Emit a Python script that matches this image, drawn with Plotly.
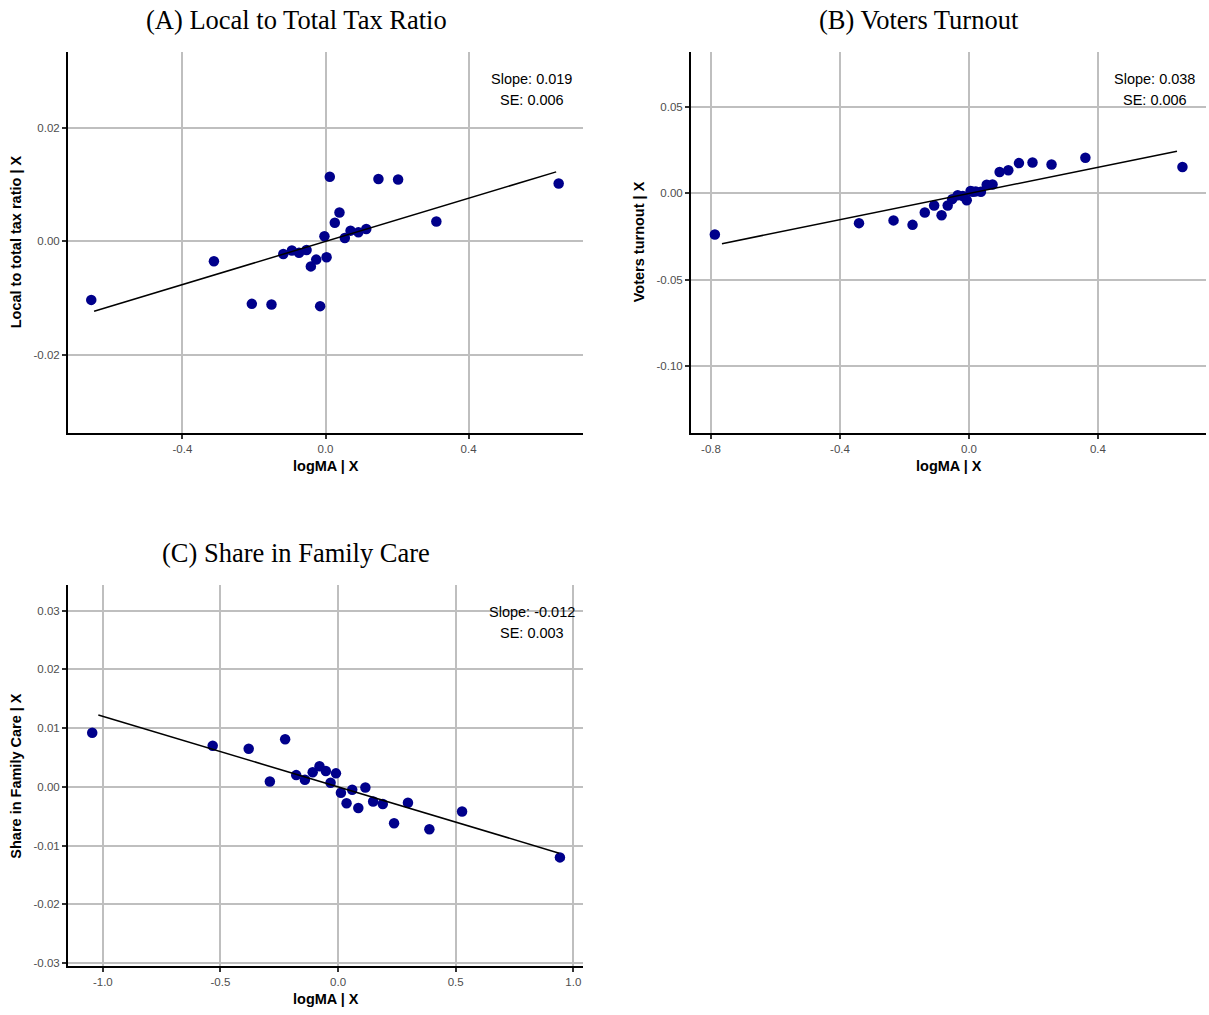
import plotly.graph_objects as go

# ---- data: partial-regression residuals (logMA | X vs outcome | X) ----
a_x = [-0.655, -0.312, -0.206, -0.151, -0.118, -0.094, -0.074, -0.053, -0.041, -0.026,
       -0.015, -0.003, 0.003, 0.012, 0.026, 0.039, 0.054, 0.070, 0.092, 0.114,
       0.148, 0.203, 0.310, 0.652]
a_y = [-0.0103, -0.0035, -0.0110, -0.0111, -0.0022, -0.0016, -0.0020, -0.0015, -0.0044, -0.0032,
       -0.0114, 0.0009, -0.0028, 0.0114, 0.0033, 0.0051, 0.0006, 0.0019, 0.0016, 0.0022,
       0.0110, 0.0109, 0.0035, 0.0102]

b_x = [-0.788, -0.341, -0.234, -0.175, -0.137, -0.108, -0.085, -0.066, -0.052, -0.035,
       -0.019, -0.007, 0.005, 0.012, 0.021, 0.037, 0.055, 0.073, 0.095, 0.122,
       0.155, 0.197, 0.256, 0.361, 0.662]
b_y = [-0.0238, -0.0172, -0.0156, -0.0182, -0.0110, -0.0070, -0.0126, -0.0070, -0.0033, -0.0010,
       -0.0015, -0.0039, 0.0014, 0.0010, 0.0012, 0.0010, 0.0050, 0.0052, 0.0124, 0.0135,
       0.0176, 0.0180, 0.0168, 0.0207, 0.0153]

c_x = [-1.045, -0.533, -0.380, -0.225, -0.290, -0.178, -0.141, -0.108, -0.079, -0.052,
       -0.009, -0.032, 0.012, 0.036, 0.060, 0.086, 0.116, 0.149, 0.190, 0.238,
       0.297, 0.388, 0.527, 0.943]
c_y = [0.0092, 0.0070, 0.0065, 0.0081, 0.0009, 0.0020, 0.0012, 0.0025, 0.0035, 0.0027,
       0.0023, 0.0007, -0.0010, -0.0028, -0.0005, -0.0036, -0.0001, -0.0025, -0.0029, -0.0062,
       -0.0027, -0.0072, -0.0042, -0.0120]

# fitted slopes, standard errors and the x extent of each fitted line
slopes = [0.019, 0.038, -0.012]
ses = [0.006, 0.006, 0.003]
fit_x = [[-0.647, 0.645], [-0.766, 0.645], [-1.019, 0.940]]

titles = ["(A) Local to Total Tax Ratio", "(B) Voters Turnout", "(C) Share in Family Care"]
y_titles = ["Local to total tax ratio | X", "Voters turnout | X", "Share in Family Care | X"]
x_title = "logMA | X"

x_ticks = [[-0.4, 0.0, 0.4], [-0.8, -0.4, 0.0, 0.4], [-1.0, -0.5, 0.0, 0.5, 1.0]]
x_ticklabels = [["-0.4", "0.0", "0.4"], ["-0.8", "-0.4", "0.0", "0.4"],
                ["-1.0", "-0.5", "0.0", "0.5", "1.0"]]
y_ticks = [[-0.02, 0.0, 0.02], [-0.10, -0.05, 0.0, 0.05],
           [-0.03, -0.02, -0.01, 0.0, 0.01, 0.02, 0.03]]
y_ticklabels = [["-0.02", "0.00", "0.02"], ["-0.10", "-0.05", "0.00", "0.05"],
                ["-0.03", "-0.02", "-0.01", "0.00", "0.01", "0.02", "0.03"]]

x_ranges = [[-0.72, 0.72], [-0.862, 0.735], [-1.148, 1.041]]
y_ranges = [[-0.0337, 0.0334], [-0.1387, 0.0821], [-0.0305, 0.0343]]

# ---- layout geometry (paper fractions) ----
W, H = 1209, 1015
x_doms = [[68 / W, 583 / W], [691 / W, 1206 / W], [68 / W, 583 / W]]
y_doms = [[1 - 434 / H, 1 - 52 / H], [1 - 434 / H, 1 - 52 / H], [1 - 969 / H, 1 - 587 / H]]
title_cx = [296 / W, 919 / W, 296 / W]
title_cy = [1 - 20 / H, 1 - 20 / H, 1 - 555 / H]
ytitle_cx = [16 / W, 639 / W, 16 / W]

SANS = "Liberation Sans, Arial, sans-serif"
SERIF = "Liberation Serif, Times New Roman, serif"
GRID = "#bfbfbf"
TICKTXT = "#4d4d4d"

fig = go.Figure()
annotations = []
xs = [a_x, b_x, c_x]
ys = [a_y, b_y, c_y]

for i in range(3):
    sfx = "" if i == 0 else str(i + 1)
    xa, ya = "x" + sfx, "y" + sfx

    fig.add_trace(go.Scatter(
        x=xs[i], y=ys[i], mode="markers", xaxis=xa, yaxis=ya,
        marker=dict(color="#00008b", size=10.5, line=dict(width=0)),
        showlegend=False, hoverinfo="x+y"))

    lx = fit_x[i]
    fig.add_trace(go.Scatter(
        x=lx, y=[slopes[i] * v for v in lx], mode="lines", xaxis=xa, yaxis=ya,
        line=dict(color="black", width=1.5), showlegend=False, hoverinfo="skip"))

    axis_common = dict(
        showline=True, linecolor="black", linewidth=2,
        ticks="outside", ticklen=4, tickwidth=1.5, tickcolor="#333333",
        showgrid=True, gridcolor=GRID, gridwidth=2, zeroline=False,
        tickfont=dict(family=SANS, size=11.5, color=TICKTXT),
    )
    fig.update_layout(**{
        "xaxis" + sfx: dict(axis_common, domain=x_doms[i], range=x_ranges[i],
                            tickvals=x_ticks[i], ticktext=x_ticklabels[i],
                            anchor=ya),
        "yaxis" + sfx: dict(axis_common, domain=y_doms[i], range=y_ranges[i],
                            tickvals=y_ticks[i], ticktext=y_ticklabels[i],
                            anchor=xa),
    })

    # panel title
    annotations.append(dict(
        text=titles[i], xref="paper", yref="paper", x=title_cx[i], y=title_cy[i],
        xanchor="center", yanchor="middle", showarrow=False,
        font=dict(family=SERIF, size=26.5, color="black")))
    # axis titles
    annotations.append(dict(
        text="<b>" + x_title + "</b>", xref="paper", yref="paper",
        x=(x_doms[i][0] + x_doms[i][1]) / 2, y=y_doms[i][0] - 33 / H,
        xanchor="center", yanchor="middle", showarrow=False,
        font=dict(family=SANS, size=14.5, color="black")))
    annotations.append(dict(
        text="<b>" + y_titles[i] + "</b>", xref="paper", yref="paper",
        x=ytitle_cx[i], y=(y_doms[i][0] + y_doms[i][1]) / 2, textangle=-90,
        xanchor="center", yanchor="middle", showarrow=False,
        font=dict(family=SANS, size=14.5, color="black")))
    # slope / SE label
    annotations.append(dict(
        text="Slope: %.3f" % slopes[i], xref=xa + " domain", yref=ya + " domain",
        x=0.9, y=0.929, xanchor="center", yanchor="middle", showarrow=False,
        font=dict(family=SANS, size=14.5, color="black")))
    annotations.append(dict(
        text="SE: %.3f" % ses[i], xref=xa + " domain", yref=ya + " domain",
        x=0.9, y=0.874, xanchor="center", yanchor="middle", showarrow=False,
        font=dict(family=SANS, size=14.5, color="black")))

fig.update_layout(
    width=W, height=H, margin=dict(l=0, r=0, t=0, b=0),
    paper_bgcolor="white", plot_bgcolor="white",
    annotations=annotations, showlegend=False,
)

fig.write_html("out.html", config={"displayModeBar": False})
